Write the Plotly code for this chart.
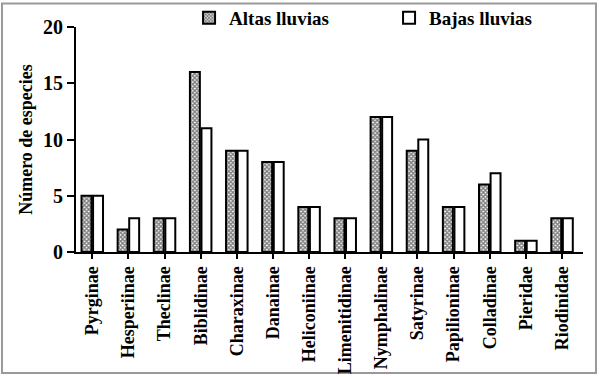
import plotly.graph_objects as go

categories = ["Pyrginae", "Hesperiinae", "Theclinae", "Biblidinae", "Charaxinae",
              "Danainae", "Heliconiinae", "Limenitidinae", "Nymphalinae", "Satyrinae",
              "Papilioninae", "Colladinae", "Pieridae", "Riodinidae"]
altas = [5, 2, 3, 16, 9, 8, 4, 3, 12, 9, 4, 6, 1, 3]
bajas = [5, 3, 3, 11, 9, 8, 4, 3, 12, 10, 4, 7, 1, 3]
y_ticks = [0, 5, 10, 15, 20]

FONT = "Liberation Serif"

fig = go.Figure()
fig.add_trace(go.Bar(
    x=categories, y=altas, name="<b>Altas lluvias</b>",
    marker=dict(color="white", line=dict(color="black", width=2),
                pattern=dict(shape="x", size=3, solidity=0.7, fgcolor="#000", bgcolor="white")),
))
fig.add_trace(go.Bar(
    x=categories, y=bajas, name="<b>Bajas lluvias</b>",
    marker=dict(color="white", line=dict(color="black", width=2)),
))

fig.update_layout(
    width=600, height=377,
    margin=dict(l=76, r=17, t=27, b=125, autoexpand=False),
    paper_bgcolor="white", plot_bgcolor="white",
    barmode="group", bargap=0.36, bargroupgap=0.14,
    font=dict(family=FONT, color="black", size=19),
    showlegend=True,
    legend=dict(orientation="h", x=0.223, y=1.04, xanchor="left", yanchor="middle",
                font=dict(family=FONT, size=19, color="black"),
                itemwidth=30, entrywidth=155, traceorder="normal", bgcolor="rgba(0,0,0,0)"),
    xaxis=dict(range=[-0.45, 13.58], showline=True, linecolor="black", linewidth=2,
               ticks="outside", ticklen=5, tickwidth=2, tickcolor="black",
               tickangle=-90, showgrid=False, zeroline=False, automargin=False,
               tickfont=dict(family=FONT, size=18, color="black"),
               tickvals=categories, ticktext=["<b>%s</b>" % c for c in categories]),
    yaxis=dict(range=[0, 20], tickvals=y_ticks, ticktext=["<b>%d</b>" % v for v in y_ticks],
               showline=True, linecolor="black", linewidth=2,
               ticks="outside", ticklen=7, tickwidth=2, tickcolor="black",
               showgrid=False, zeroline=False, automargin=False,
               tickfont=dict(family=FONT, size=20, color="black"),
               title=dict(text="<b>Número de especies</b>", standoff=6,
                          font=dict(family=FONT, size=18, color="black"))),
    shapes=[dict(type="rect", xref="paper", yref="paper",
                 x0=-0.146, x1=1.0256, y0=-0.5378, y1=1.104,
                 line=dict(color="#999999", width=2), fillcolor="rgba(0,0,0,0)", layer="below")],
)

fig.write_html("out.html", config={"displayModeBar": False},
               post_script="document.body.style.margin='0px';")
